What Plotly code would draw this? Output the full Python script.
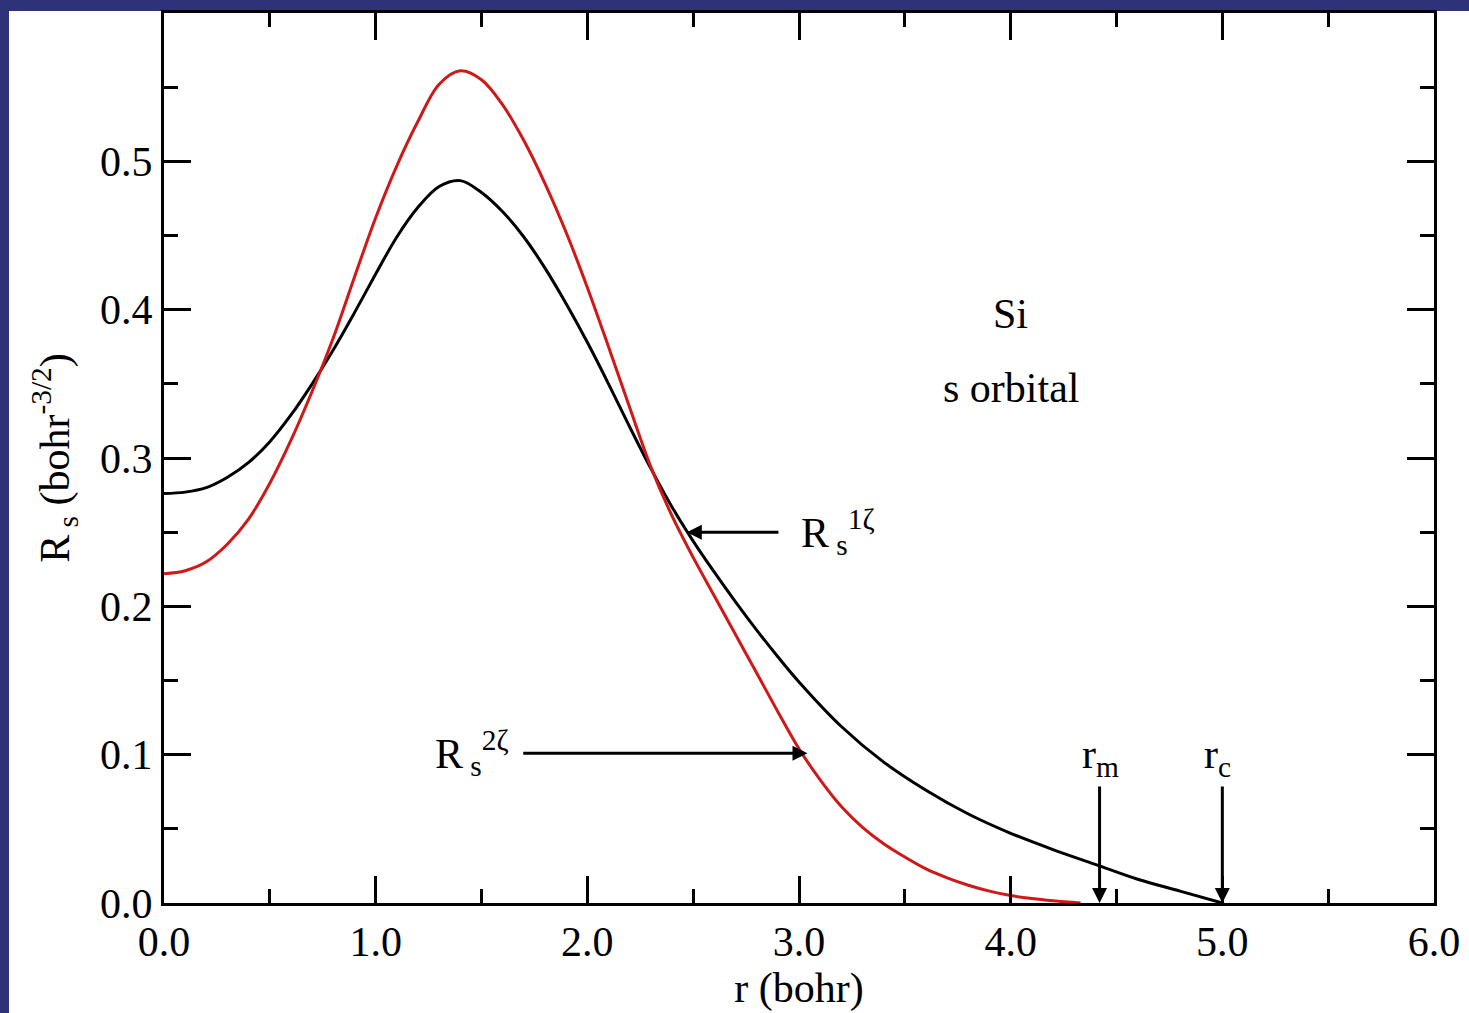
import plotly.graph_objects as go

# ---- data ----
r_1z = [0.0, 0.1, 0.2, 0.3, 0.4, 0.5, 0.6, 0.7, 0.8, 0.9, 1.0, 1.1, 1.2, 1.3, 1.4, 1.5,
        1.6, 1.7, 1.8, 1.9, 2.0, 2.1, 2.2, 2.3, 2.4, 2.5, 2.6, 2.7, 2.8, 2.9, 3.0,
        3.2, 3.4, 3.6, 3.8, 4.0, 4.2, 4.4, 4.6, 4.8, 5.0]
R_1z = [0.276, 0.277, 0.280, 0.287, 0.297, 0.311, 0.329, 0.350, 0.373, 0.398, 0.424,
        0.449, 0.469, 0.483, 0.487, 0.479, 0.466, 0.449, 0.428, 0.404, 0.378, 0.350,
        0.321, 0.293, 0.267, 0.244, 0.223, 0.203, 0.184, 0.166, 0.149,
        0.119, 0.095, 0.076, 0.060, 0.047, 0.036, 0.026, 0.016, 0.008, 0.0]

r_2z = [0.0, 0.1, 0.2, 0.3, 0.4, 0.5, 0.6, 0.7, 0.8, 0.9, 1.0, 1.1, 1.2, 1.3, 1.4, 1.5,
        1.6, 1.7, 1.8, 1.9, 2.0, 2.1, 2.2, 2.3, 2.4, 2.5, 2.6, 2.7, 2.8, 2.9, 3.0,
        3.1, 3.2, 3.3, 3.4, 3.5, 3.6, 3.7, 3.8, 3.9, 4.0, 4.1, 4.2, 4.33]
R_2z = [0.222, 0.224, 0.230, 0.242, 0.259, 0.283, 0.312, 0.345, 0.381, 0.422, 0.462,
        0.497, 0.527, 0.552, 0.561, 0.555, 0.538, 0.514, 0.485, 0.452, 0.415, 0.375,
        0.334, 0.294, 0.261, 0.233, 0.207, 0.181, 0.155, 0.129, 0.104,
        0.083, 0.065, 0.051, 0.040, 0.031, 0.023, 0.017, 0.012, 0.008, 0.005, 0.003,
        0.0015, 0.0]

x_ticks = [0, 1, 2, 3, 4, 5, 6]
x_ticklabels = ["0.0", "1.0", "2.0", "3.0", "4.0", "5.0", "6.0"]
y_ticks = [0.0, 0.1, 0.2, 0.3, 0.4, 0.5]
y_ticklabels = ["0.0", "0.1", "0.2", "0.3", "0.4", "0.5"]

r_m = 4.42
r_c = 5.0

FONT = "Liberation Serif, Times New Roman, serif"

fig = go.Figure()
fig.add_trace(go.Scatter(x=r_1z, y=R_1z, mode="lines",
                         line=dict(color="black", width=3, shape="spline", smoothing=1.0),
                         showlegend=False))
fig.add_trace(go.Scatter(x=r_2z, y=R_2z, mode="lines",
                         line=dict(color="#d01818", width=3, shape="spline", smoothing=1.0),
                         showlegend=False))

axis_common = dict(
    showline=True, linecolor="black", linewidth=3, mirror="ticks",
    ticks="inside", ticklen=27, tickwidth=3, tickcolor="black",
    showgrid=False, zeroline=False,
    tickfont=dict(family=FONT, size=42, color="black"),
)

fig.update_xaxes(range=[0, 6], tickvals=x_ticks, ticktext=x_ticklabels,
                 minor=dict(dtick=0.5, ticks="inside", ticklen=14, tickwidth=3, tickcolor="black"),
                 title=dict(text="r (bohr)", font=dict(family=FONT, size=42, color="black"), standoff=0),
                 **axis_common)
fig.update_yaxes(range=[0, 0.6], tickvals=y_ticks, ticktext=y_ticklabels,
                 minor=dict(dtick=0.05, ticks="inside", ticklen=14, tickwidth=3, tickcolor="black"),
                 title=dict(text="R<sub> s</sub> (bohr<sup>-3/2</sup>)",
                            font=dict(family=FONT, size=42, color="black"), standoff=18),
                 **axis_common)

# white page over the blue frame
fig.add_shape(type="rect", xref="paper", yref="paper",
              x0=(9 - 164) / 1270, x1=(1469 - 164) / 1270,
              y0=-(1013 - 903) / 890, y1=(903 - 11) / 890,
              fillcolor="white", line=dict(width=0), layer="below")

txt = dict(family=FONT, size=42, color="black")
ann = []
ann.append(dict(x=4.0, y=0.397, text="Si", showarrow=False, font=txt))
ann.append(dict(x=4.0, y=0.347, text="s orbital", showarrow=False, font=txt))
# R_s^1zeta
ann.append(dict(x=2.47, y=0.25, ax=2.91, ay=0.25, axref="x", ayref="y", text="",
                showarrow=True, arrowhead=2, arrowsize=1, arrowwidth=3, arrowcolor="black"))
ann.append(dict(x=3.0, y=0.25, text="R<sub> s</sub><sup>1ζ</sup>", showarrow=False,
                xanchor="left", font=txt))
# R_s^2zeta
ann.append(dict(x=3.04, y=0.101, ax=1.69, ay=0.101, axref="x", ayref="y", text="",
                showarrow=True, arrowhead=2, arrowsize=1, arrowwidth=3, arrowcolor="black"))
ann.append(dict(x=1.64, y=0.101, text="R<sub> s</sub><sup>2ζ</sup>", showarrow=False,
                xanchor="right", font=txt))
# r_m, r_c
for rv, lab in [(r_m, "r<sub>m</sub>"), (r_c, "r<sub>c</sub>")]:
    ann.append(dict(x=rv, y=0.0, ax=rv, ay=0.0796, axref="x", ayref="y", text="",
                    showarrow=True, arrowhead=2, arrowsize=1, arrowwidth=3, arrowcolor="black"))
    ann.append(dict(x=rv, y=0.0796, text=lab, showarrow=False, xanchor="left",
                    xshift=-20, yanchor="bottom", font=txt))
fig.update_layout(annotations=ann)

fig.update_layout(
    width=1469, height=1013,
    margin=dict(l=164, r=35, t=13, b=110, autoexpand=False),
    paper_bgcolor="#2e3278", plot_bgcolor="white",
    font=dict(family=FONT, color="black"),
)

fig.write_html("out.html")
